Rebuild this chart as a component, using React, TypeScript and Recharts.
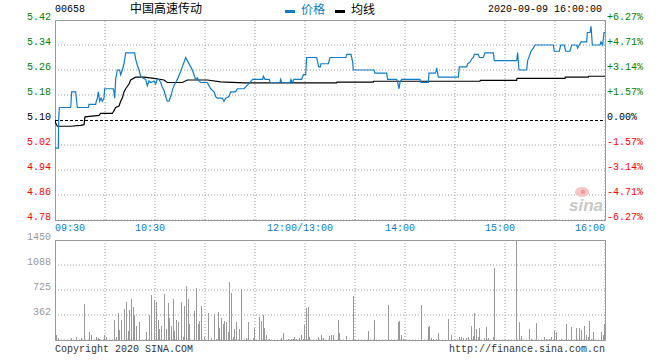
import React from 'react';
import { ComposedChart, Line, Bar, XAxis, YAxis, ReferenceLine, ReferenceArea } from 'recharts';

const MONO = '"Liberation Mono", "DejaVu Sans Mono", monospace';
const CJK = '"Noto Sans CJK SC", sans-serif';
const BLUE = '#0f7cc6';
const GRID = '#9a9a9a';
const FRAME = '#999999';

// ---- tick labels ----
const priceTicks = [4.78, 4.86, 4.94, 5.02, 5.10, 5.18, 5.26, 5.34, 5.42];
const priceTickLabels = ['4.78', '4.86', '4.94', '5.02', '5.10', '5.18', '5.26', '5.34', '5.42'];
const pctTickLabels = ['-6.27%', '-4.71%', '-3.14%', '-1.57%', '0.00%', '+1.57%', '+3.14%', '+4.71%', '+6.27%'];
const timeTicks = [0, 30, 60, 90, 120, 150, 180, 210, 240, 270, 300, 330];
const timeLabelAt = [0, 60, 150, 210, 270, 330];
const timeLabels = ['09:30', '10:30', '12:00/13:00', '14:00', '15:00', '16:00'];
const volTicks = [0, 362.5, 725, 1087.5, 1450];
const volTickLabels = ['', '362', '725', '1088', '1450'];
const prevClose = 5.10;

// ---- price series (minute from open, price) ----
const priceMinutes = [0, 2, 2.2, 2.6, 9.4, 10, 12.4, 13.4, 20, 20.4, 24.4, 24.8, 25.4, 26, 26.8, 27.6, 28.4, 29.4, 29.8, 35, 35.4, 35.8, 36.4, 37.4, 38.8, 39.4, 40.4, 41.4, 42, 42.4, 47.8, 48.4, 49.4, 50.4, 51.4, 52.4, 54.4, 55.4, 56.4, 57.4, 59.4, 60.4, 61.4, 62.4, 63.4, 64.4, 65.4, 66.4, 67.4, 68.4, 69.4, 70.4, 71.4, 72.4, 73.4, 75.4, 76.4, 77.4, 78.4, 79.4, 80.4, 81.4, 82.4, 83.4, 84.4, 85.4, 86.4, 87.4, 91.4, 92.4, 93.4, 95.4, 96.4, 97.4, 100.4, 101.4, 102.4, 104.4, 105.4, 108.4, 109.4, 113.4, 116, 118.6, 124.6, 125, 126, 128.6, 129, 135, 135.4, 136, 141, 141.6, 142.4, 143.4, 148, 149, 150.4, 151, 157, 157.6, 158.2, 159.2, 159.6, 164, 165, 174.6, 175, 177.6, 178.6, 179, 191.4, 192, 199, 199.6, 205, 205.6, 206.4, 207, 208, 219, 219.6, 224, 224.4, 228, 228.6, 229, 229.6, 230, 242, 242.6, 247, 247.6, 249, 250, 251, 251.6, 254, 254.6, 257, 258, 263, 263.6, 277, 277.6, 278.4, 283, 283.6, 285, 285.6, 287, 288, 299, 299.6, 302.6, 303.4, 305.6, 306.4, 309, 310, 313, 313.6, 314.6, 315.6, 319, 319.4, 321, 321.6, 322.4, 327, 327.6, 328.6, 329.4, 330];
const priceValues = [5.01, 5.01, 5.10, 5.14, 5.14, 5.19, 5.19, 5.14, 5.14, 5.15, 5.15, 5.16, 5.17, 5.19, 5.16, 5.17, 5.16, 5.17, 5.20, 5.20, 5.19, 5.17, 5.23, 5.26, 5.26, 5.245, 5.26, 5.28, 5.30, 5.315, 5.315, 5.295, 5.275, 5.26, 5.24, 5.235, 5.23, 5.21, 5.225, 5.22, 5.225, 5.215, 5.23, 5.23, 5.22, 5.205, 5.195, 5.175, 5.16, 5.16, 5.175, 5.195, 5.21, 5.22, 5.23, 5.255, 5.27, 5.285, 5.30, 5.29, 5.28, 5.27, 5.26, 5.245, 5.23, 5.235, 5.225, 5.22, 5.22, 5.21, 5.20, 5.19, 5.175, 5.17, 5.17, 5.16, 5.17, 5.175, 5.19, 5.19, 5.20, 5.20, 5.215, 5.23, 5.23, 5.24, 5.23, 5.23, 5.22, 5.22, 5.23, 5.22, 5.22, 5.23, 5.22, 5.23, 5.23, 5.245, 5.245, 5.30, 5.30, 5.285, 5.27, 5.27, 5.28, 5.28, 5.30, 5.30, 5.31, 5.31, 5.285, 5.26, 5.26, 5.25, 5.25, 5.23, 5.23, 5.22, 5.20, 5.22, 5.23, 5.23, 5.22, 5.22, 5.25, 5.25, 5.255, 5.267, 5.25, 5.237, 5.237, 5.27, 5.27, 5.28, 5.285, 5.295, 5.30, 5.31, 5.31, 5.30, 5.30, 5.315, 5.315, 5.29, 5.29, 5.316, 5.26, 5.26, 5.29, 5.31, 5.32, 5.33, 5.34, 5.34, 5.32, 5.32, 5.34, 5.34, 5.32, 5.32, 5.34, 5.34, 5.33, 5.34, 5.35, 5.35, 5.38, 5.38, 5.40, 5.34, 5.34, 5.35, 5.34, 5.38, 5.38];

// ---- average price series ----
const avgMinutes = [0, 0.4, 1.4, 9.4, 15.4, 17.4, 18, 26.4, 27.4, 34.4, 35.4, 36.4, 38.4, 39.4, 40.4, 41.4, 42.4, 44.4, 45.4, 48.4, 53.4, 59.4, 65.4, 67.4, 76.4, 79.4, 91.4, 99.4, 113.4, 169, 169.2, 191, 191.2, 255, 255.2, 277, 277.2, 306, 306.2, 320, 320.2, 330];
const avgValues = [5.10, 5.09, 5.08, 5.08, 5.083, 5.085, 5.11, 5.115, 5.121, 5.121, 5.13, 5.14, 5.145, 5.16, 5.17, 5.19, 5.20, 5.215, 5.228, 5.237, 5.237, 5.233, 5.228, 5.22, 5.22, 5.228, 5.228, 5.222, 5.219, 5.219, 5.221, 5.221, 5.224, 5.224, 5.227, 5.227, 5.233, 5.233, 5.237, 5.237, 5.24, 5.24];

// ---- volume (minute, lots) ----
const volMinutes = [1, 2, 10, 13, 16, 18, 21, 22, 25, 26, 27, 30, 31, 36, 37, 38, 39, 40, 42, 43, 44, 45, 46, 47, 48, 49, 51, 55, 57, 58, 60, 61, 62, 63, 64, 66, 67, 68, 69, 70, 71, 72, 73, 74, 76, 77, 78, 79, 80, 81, 84, 85, 86, 87, 88, 90, 92, 94, 96, 97, 98, 99, 100, 101, 102, 103, 104, 105, 106, 107, 108, 109, 111, 112, 115, 116, 119, 120, 123, 124, 125, 126, 127, 129, 136, 137, 140, 142, 143, 144, 145, 147, 148, 149, 150, 151, 152, 153, 158, 160, 161, 165, 166, 167, 170, 171, 175, 179, 188, 192, 200, 206, 207, 208, 209, 220, 224, 225, 226, 227, 229, 230, 236, 238, 243, 244, 245, 247, 248, 250, 251, 252, 253, 254, 255, 258, 259, 260, 263, 264, 277, 279, 280, 285, 286, 289, 294, 295, 297, 298, 300, 301, 304, 307, 310, 313, 315, 316, 318, 319, 320, 321, 322, 323, 328, 329, 330];
const volValues = [72, 34, 34, 48, 24, 522, 116, 72, 48, 34, 19, 72, 39, 290, 48, 391, 145, 290, 449, 551, 130, 435, 594, 478, 362, 203, 261, 116, 362, 652, 580, 551, 290, 160, 203, 667, 160, 536, 319, 203, 594, 130, 290, 261, 551, 43, 493, 783, 594, 232, 420, 754, 232, 275, 493, 43, 391, 29, 377, 14, 406, 174, 319, 232, 275, 261, 116, 841, 681, 43, 160, 261, 160, 739, 29, 261, 29, 174, 333, 275, 362, 174, 72, 14, 29, 101, 14, 14, 14, 43, 14, 29, 72, 14, 217, 459, 483, 43, 43, 72, 29, 58, 72, 72, 290, 101, 58, 638, 130, 290, 507, 261, 275, 72, 14, 507, 188, 203, 29, 14, 14, 101, 304, 72, 43, 43, 29, 29, 43, 203, 58, 391, 160, 43, 174, 29, 188, 29, 43, 1044, 1450, 261, 58, 160, 14, 246, 43, 14, 14, 43, 130, 116, 14, 232, 188, 174, 174, 145, 203, 72, 43, 275, 14, 116, 116, 72, 232];

const priceData = priceMinutes.map((m, i) => ({ m, p: priceValues[i] }));
const avgData = avgMinutes.map((m, i) => ({ m, p: avgValues[i] }));
const volData = volMinutes.map((m, i) => ({ m, v: volValues[i] }));

// grid segments built from the tick arrays (drawn as two-point series through the chart scales)
const xMin = timeTicks[0];
const xMax = timeTicks[timeTicks.length - 1];
const priceGridH = priceTicks.filter((v) => v !== prevClose).map((v) => [{ m: xMin, g: v }, { m: xMax, g: v }]);
const priceGridV = timeTicks.map((t) => [{ m: t, g: priceTicks[0] }, { m: t, g: priceTicks[priceTicks.length - 1] }]);
const volGridH = volTicks.map((v) => [{ m: xMin, g: v }, { m: xMax, g: v }]);
const volGridV = timeTicks.map((t) => [{ m: t, g: volTicks[0] }, { m: t, g: volTicks[volTicks.length - 1] }]);

const tickColor = (i: number) => (i < 4 ? '#ff0000' : i === 4 ? '#000000' : '#008000');

const LeftTick = (props: any) => {
  const i = priceTicks.indexOf(props.payload.value);
  return (
    <text x={props.x} y={props.y} textAnchor="end" fontFamily={MONO} fontSize={10} fill={tickColor(i)}>
      {priceTickLabels[i]}
    </text>
  );
};

const RightTick = (props: any) => {
  const i = priceTicks.indexOf(props.payload.value);
  return (
    <text x={props.x} y={props.y} textAnchor="start" fontFamily={MONO} fontSize={10} fill={tickColor(i)}>
      {pctTickLabels[i]}
    </text>
  );
};

const TimeTick = (props: any) => {
  const k = timeLabelAt.indexOf(props.payload.value);
  if (k < 0) return <g />;
  const last = k === timeLabels.length - 1;
  const anchor = k === 0 ? 'start' : last ? 'end' : 'middle';
  const dx = k === 0 || last ? 0 : -5;
  return (
    <text x={props.x + dx} y={props.y + 11} textAnchor={anchor} fontFamily={MONO} fontSize={10} fill={BLUE}>
      {timeLabels[k]}
    </text>
  );
};

const VolTick = (props: any) => {
  const i = volTicks.indexOf(props.payload.value);
  return (
    <text x={props.x} y={props.y} textAnchor="end" fontFamily={MONO} fontSize={10} fill="#999999">
      {volTickLabels[i]}
    </text>
  );
};

const VolBar = (props: any) => {
  const { x, width, y, height } = props;
  if (!height || height <= 0) return <g />;
  const cx = Math.floor(x + width / 2);
  return <rect x={cx} y={y} width={1} height={height} fill="#999999" shapeRendering="crispEdges" />;
};

export default function App() {
  return (
    <div style={{ position: 'absolute', left: 0, top: 0, width: 660, height: 360, background: '#fff' }}>
      <div style={{ position: 'absolute', left: 0, top: 0 }}>
        <ComposedChart width={660} height={240} data={priceData} margin={{ top: 20, right: 0, bottom: 0, left: 0 }}>
          <XAxis dataKey="m" type="number" domain={[0, 330]} ticks={timeTicks} interval={0} tick={<TimeTick />} tickLine={false} axisLine={false} tickSize={0} tickMargin={0} height={20} allowDataOverflow />
          <YAxis yAxisId="l" orientation="left" width={55} type="number" domain={[4.78, 5.42]} ticks={priceTicks} interval={0} tick={<LeftTick />} tickLine={false} axisLine={false} tickSize={0} tickMargin={4} allowDataOverflow />
          <YAxis yAxisId="r" orientation="right" width={55} type="number" domain={[4.78, 5.42]} ticks={priceTicks} interval={0} tick={<RightTick />} tickLine={false} axisLine={false} tickSize={0} tickMargin={2} allowDataOverflow />
          {priceGridH.map((seg, i) => (
            <Line key={'pgh' + i} yAxisId="l" data={seg} dataKey="g" type="linear" stroke={GRID} strokeWidth={1} strokeDasharray="1 2" dot={false} activeDot={false} isAnimationActive={false} legendType="none" />
          ))}
          {priceGridV.map((seg, i) => (
            <Line key={'pgv' + i} yAxisId="l" data={seg} dataKey="g" type="linear" stroke={GRID} strokeWidth={1} strokeDasharray="1 2" dot={false} activeDot={false} isAnimationActive={false} legendType="none" />
          ))}
          <ReferenceLine yAxisId="l" y={prevClose} stroke="#000" strokeDasharray="3 2" shapeRendering="crispEdges" />
          <Line yAxisId="l" data={avgData} dataKey="p" type="linear" stroke="#000000" strokeWidth={1.2} dot={false} isAnimationActive={false} />
          <Line yAxisId="l" dataKey="p" type="linear" stroke={BLUE} strokeWidth={1.2} dot={false} isAnimationActive={false} />
          <ReferenceArea yAxisId="l" x1={0} x2={330} y1={4.78} y2={5.42} fill="none" fillOpacity={0} stroke={FRAME} strokeWidth={1} shapeRendering="crispEdges" />
        </ComposedChart>
      </div>
      <div style={{ position: 'absolute', left: 0, top: 230 }}>
        <ComposedChart width={660} height={130} data={volData} margin={{ top: 10, right: 55, bottom: 20, left: 0 }}>
          <XAxis dataKey="m" type="number" domain={[0, 330]} ticks={timeTicks} interval={0} tick={false} tickLine={false} axisLine={false} height={0} allowDataOverflow />
          <YAxis width={55} type="number" domain={[0, 1450]} ticks={volTicks} interval={0} tick={<VolTick />} tickLine={false} axisLine={false} tickSize={0} tickMargin={4} allowDataOverflow />
          {volGridH.map((seg, i) => (
            <Line key={'vgh' + i} data={seg} dataKey="g" type="linear" stroke={GRID} strokeWidth={1} strokeDasharray="1 2" dot={false} activeDot={false} isAnimationActive={false} legendType="none" />
          ))}
          {volGridV.map((seg, i) => (
            <Line key={'vgv' + i} data={seg} dataKey="g" type="linear" stroke={GRID} strokeWidth={1} strokeDasharray="1 2" dot={false} activeDot={false} isAnimationActive={false} legendType="none" />
          ))}
          <Bar dataKey="v" barSize={1} shape={<VolBar />} isAnimationActive={false} fill="#999999" />
          <ReferenceArea x1={0} x2={330} y1={0} y2={1450} fill="none" fillOpacity={0} stroke={FRAME} strokeWidth={1} shapeRendering="crispEdges" />
        </ComposedChart>
      </div>
      <svg width={660} height={360} style={{ position: 'absolute', left: 0, top: 0, pointerEvents: 'none' }}>
        <text x={55} y={12} fontFamily={MONO} fontSize={10} fill="#000">00658</text>
        <text x={130} y={13} fontFamily={CJK} fontSize={12} fill="#000">中国高速传动</text>
        <rect x={285} y={10} width={10} height={3} fill={BLUE} />
        <text x={301} y={13.5} fontFamily={CJK} fontSize={12} fill={BLUE}>价格</text>
        <rect x={335} y={10} width={10} height={3} fill="#000" />
        <text x={351} y={13.5} fontFamily={CJK} fontSize={12} fill="#000">均线</text>
        <text x={488} y={12} fontFamily={MONO} fontSize={10} fill="#000">2020-09-09 16:00:00</text>
        <ellipse cx={582} cy={192} rx={7} ry={5} fill="#f6c4c4" />
        <circle cx={583} cy={192} r={2.2} fill="#e99a9a" />
        <text x={586} y={211} textAnchor="middle" fontFamily="Liberation Sans, sans-serif" fontStyle="italic" fontWeight="bold" fontSize={17} fill="#c8c8c8">sina</text>
        <text x={55} y={352} fontFamily={MONO} fontSize={10} fill="#333">Copyright 2020 SINA.COM</text>
        <text x={605} y={352} textAnchor="end" fontFamily={MONO} fontSize={10} fill="#333">http://finance.sina.com.cn</text>
      </svg>
    </div>
  );
}
